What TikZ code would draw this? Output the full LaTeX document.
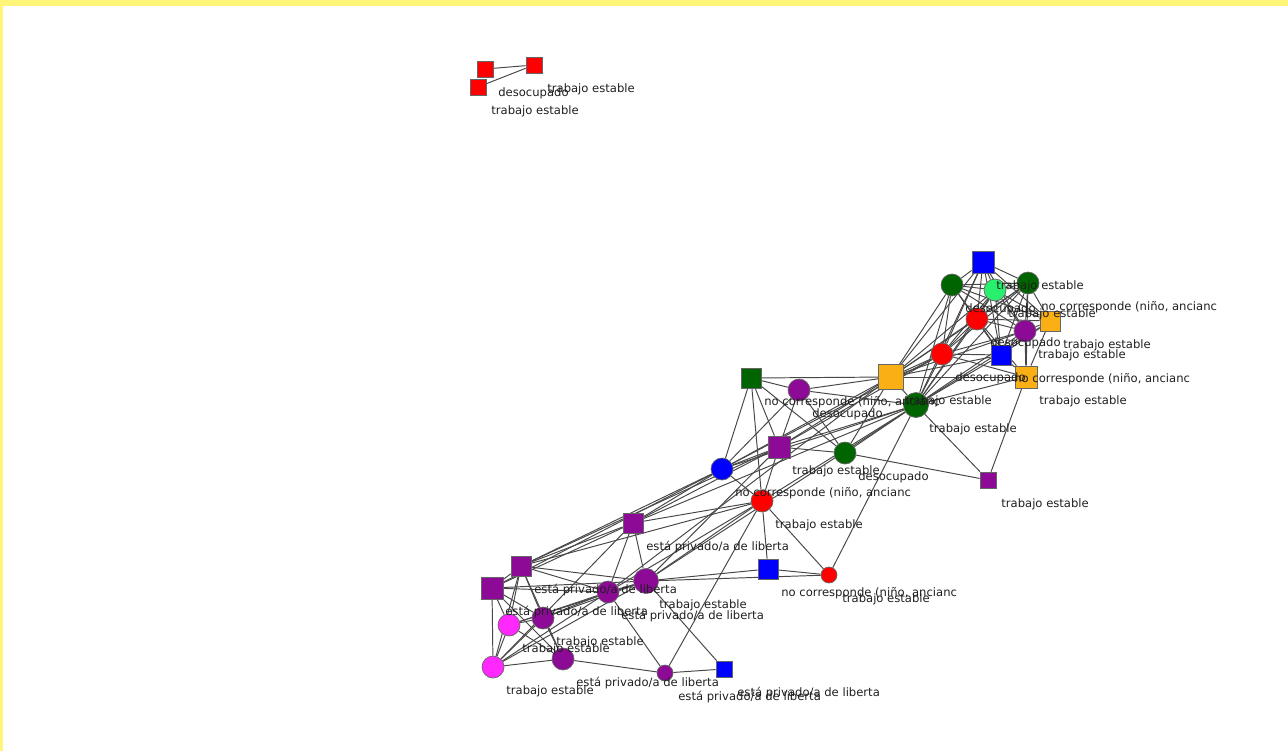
\documentclass[tikz,border=0pt]{standalone}
\usepackage{fontspec}
\usepackage{tikz}
\usetikzlibrary{shapes,backgrounds,positioning}
\newfontfamily\tagfont{DejaVu Sans}

\definecolor{frameyellow}{RGB}{255,245,120}
\definecolor{dkgreen}{RGB}{0,100,0}
\definecolor{ltgreen}{RGB}{40,240,110}
\definecolor{gold}{RGB}{250,175,20}
\definecolor{plum}{RGB}{140,10,150}
\definecolor{pink}{RGB}{255,40,255}

\begin{document}
\begin{tikzpicture}[x=0.02cm, y=-0.02cm]
		\tikzstyle{Box}		= [rectangle, draw=black!60, line width=0.4pt, minimum size=0.4cm, inner sep=0pt]
		\tikzstyle{Dot}		= [circle, draw=black!60, line width=0.4pt, minimum size=0.44cm, inner sep=0pt]
		\tikzstyle{big}		= [minimum size=0.5cm]
		\tikzstyle{small}	= [minimum size=0.32cm]
		\tikzstyle{Tag}		= [anchor=west, inner sep=0pt, text=black!88, font={\tagfont\fontsize{6.6}{7}\selectfont}]
		\tikzstyle{Edge}	= [black!72, line width=0.55pt]

		\useasboundingbox (0, 0) rectangle (1288, 751);
		\fill[frameyellow] (0, 0) rectangle (1288, 6);
		\fill[frameyellow] (0, 0) rectangle (3, 751);

		% small component
		\node (r1) at (485, 69) [Box][small, fill=red] {};
		\node (r2) at (478, 87) [Box][small, fill=red] {};
		\node (r3) at (534, 65) [Box][small, fill=red] {};

		% upper right group
		\node (b1) at (983, 262) [Box][minimum size=0.44cm, fill=blue] {};
		\node (g1) at (952, 285) [Dot][fill=dkgreen] {};
		\node (lg) at (995, 290) [Dot][fill=ltgreen] {};
		\node (g2) at (1028, 283) [Dot][fill=dkgreen] {};
		\node (r4) at (977, 319) [Dot][fill=red] {};
		\node (p1) at (1025, 331) [Dot][fill=plum] {};
		\node (o1) at (1050, 321) [Box][fill=gold] {};
		\node (r5) at (942, 354) [Dot][fill=red] {};
		\node (b2) at (1001, 355) [Box][fill=blue] {};
		\node (o2) at (891, 377) [Box][big, fill=gold] {};
		\node (o3) at (1026, 377) [Box][minimum size=0.44cm, fill=gold] {};
		\node (g3) at (916, 405) [Dot][big, fill=dkgreen] {};

		% middle
		\node (dg) at (751, 378) [Box][fill=dkgreen] {};
		\node (p2) at (799, 390) [Dot][fill=plum] {};
		\node (p3) at (779, 447) [Box][minimum size=0.44cm, fill=plum] {};
		\node (g4) at (845, 453) [Dot][fill=dkgreen] {};
		\node (b3) at (722, 469) [Dot][fill=blue] {};
		\node (r6) at (762, 501) [Dot][fill=red] {};
		\node (p4) at (988, 480) [Box][small, fill=plum] {};
		\node (p5) at (633, 523) [Box][fill=plum] {};
		\node (b4) at (768, 569) [Box][fill=blue] {};
		\node (r7) at (829, 575) [Dot][small, fill=red] {};

		% lower left group
		\node (p6) at (521, 566) [Box][fill=plum] {};
		\node (p7) at (492, 588) [Box][minimum size=0.44cm, fill=plum] {};
		\node (p8) at (646, 581) [Dot][big, fill=plum] {};
		\node (p9) at (608, 592) [Dot][fill=plum] {};
		\node (p10) at (543, 618) [Dot][fill=plum] {};
		\node (m1) at (509, 625) [Dot][fill=pink] {};
		\node (m2) at (493, 667) [Dot][fill=pink] {};
		\node (p11) at (563, 659) [Dot][fill=plum] {};
		\node (p12) at (665, 673) [Dot][small, fill=plum] {};
		\node (b5) at (724, 669) [Box][small, fill=blue] {};

		% tags, below right of each vertex
		\node (t-r1) at ([shift={(13,24)}]r1.center) [Tag] {desocupado};
		\node (t-r2) at ([shift={(13,24)}]r2.center) [Tag] {trabajo estable};
		\node (t-r3) at ([shift={(13,24)}]r3.center) [Tag] {trabajo estable};
		\node (t-b1) at ([shift={(13,24)}]b1.center) [Tag] {trabajo estable};
		\node (t-g1) at ([shift={(13,24)}]g1.center) [Tag] {desocupado};
		\node (t-lg) at ([shift={(13,24)}]lg.center) [Tag] {trabajo estable};
		\node (t-g2) at ([shift={(13,24)}]g2.center) [Tag] {no corresponde (niño, ancianc};
		\node (t-r4) at ([shift={(13,24)}]r4.center) [Tag] {desocupado};
		\node (t-p1) at ([shift={(13,24)}]p1.center) [Tag] {trabajo estable};
		\node (t-o1) at ([shift={(13,24)}]o1.center) [Tag] {trabajo estable};
		\node (t-r5) at ([shift={(13,24)}]r5.center) [Tag] {desocupado};
		\node (t-b2) at ([shift={(13,24)}]b2.center) [Tag] {no corresponde (niño, ancianc};
		\node (t-o2) at ([shift={(13,24)}]o2.center) [Tag] {trabajo estable};
		\node (t-o3) at ([shift={(13,24)}]o3.center) [Tag] {trabajo estable};
		\node (t-g3) at ([shift={(13,24)}]g3.center) [Tag] {trabajo estable};
		\node (t-dg) at ([shift={(13,24)}]dg.center) [Tag] {no corresponde (niño, ancianc};
		\node (t-p2) at ([shift={(13,24)}]p2.center) [Tag] {desocupado};
		\node (t-p3) at ([shift={(13,24)}]p3.center) [Tag] {trabajo estable};
		\node (t-g4) at ([shift={(13,24)}]g4.center) [Tag] {desocupado};
		\node (t-b3) at ([shift={(13,24)}]b3.center) [Tag] {no corresponde (niño, ancianc};
		\node (t-r6) at ([shift={(13,24)}]r6.center) [Tag] {trabajo estable};
		\node (t-p4) at ([shift={(13,24)}]p4.center) [Tag] {trabajo estable};
		\node (t-p5) at ([shift={(13,24)}]p5.center) [Tag] {está privado/a de liberta};
		\node (t-b4) at ([shift={(13,24)}]b4.center) [Tag] {no corresponde (niño, ancianc};
		\node (t-r7) at ([shift={(13,24)}]r7.center) [Tag] {trabajo estable};
		\node (t-p6) at ([shift={(13,24)}]p6.center) [Tag] {está privado/a de liberta};
		\node (t-p7) at ([shift={(13,24)}]p7.center) [Tag] {está privado/a de liberta};
		\node (t-p8) at ([shift={(13,24)}]p8.center) [Tag] {trabajo estable};
		\node (t-p9) at ([shift={(13,24)}]p9.center) [Tag] {está privado/a de liberta};
		\node (t-p10) at ([shift={(13,24)}]p10.center) [Tag] {trabajo estable};
		\node (t-m1) at ([shift={(13,24)}]m1.center) [Tag] {trabajo estable};
		\node (t-m2) at ([shift={(13,24)}]m2.center) [Tag] {trabajo estable};
		\node (t-p11) at ([shift={(13,24)}]p11.center) [Tag] {está privado/a de liberta};
		\node (t-p12) at ([shift={(13,24)}]p12.center) [Tag] {está privado/a de liberta};
		\node (t-b5) at ([shift={(13,24)}]b5.center) [Tag] {está privado/a de liberta};

		\begin{scope}[on background layer]
		\draw [-] (r1) to (r3) [Edge];
		\draw [-] (r2) to (r3) [Edge];

		\draw [-] (b1) to (g1) [Edge];
		\draw [-] (b1) to (lg) [Edge];
		\draw [-] (b1) to (g2) [Edge];
		\draw [-] (b1) to (r4) [Edge];
		\draw [-] (b1) to (p1) [Edge];
		\draw [-] (b1) to (o1) [Edge];
		\draw [-] (b1) to (r5) [Edge];
		\draw [-] (b1) to (b2) [Edge];
		\draw [-] (b1) to (g3) [Edge];
		\draw [-] (b1) to (o2) [Edge];
		\draw [-] (g1) to (lg) [Edge];
		\draw [-] (g1) to (g2) [Edge];
		\draw [-] (g1) to (r4) [Edge];
		\draw [-] (g1) to (p1) [Edge];
		\draw [-] (g1) to (b2) [Edge];
		\draw [-] (g1) to (r5) [Edge];
		\draw [-] (g1) to (o2) [Edge];
		\draw [-] (g1) to (g3) [Edge];
		\draw [-] (g1) to (o1) [Edge];
		\draw [-] (lg) to (g2) [Edge];
		\draw [-] (lg) to (r4) [Edge];
		\draw [-] (lg) to (p1) [Edge];
		\draw [-] (lg) to (o1) [Edge];
		\draw [-] (lg) to (b2) [Edge];
		\draw [-] (lg) to (r5) [Edge];
		\draw [-] (lg) to (g3) [Edge];
		\draw [-] (lg) to (o2) [Edge];
		\draw [-] (g2) to (r4) [Edge];
		\draw [-] (g2) to (p1) [Edge];
		\draw [-] (g2) to (o1) [Edge];
		\draw [-] (g2) to (b2) [Edge];
		\draw [-] (g2) to (r5) [Edge];
		\draw [-] (g2) to (g3) [Edge];
		\draw [-] (g2) to (o2) [Edge];
		\draw [-] (g2) to (o3) [Edge];
		\draw [-] (r4) to (p1) [Edge];
		\draw [-] (r4) to (o1) [Edge];
		\draw [-] (r4) to (b2) [Edge];
		\draw [-] (r4) to (r5) [Edge];
		\draw [-] (r4) to (g3) [Edge];
		\draw [-] (r4) to (o2) [Edge];
		\draw [-] (r4) to (o3) [Edge];
		\draw [-] (p1) to (o1) [Edge];
		\draw [-] (p1) to (b2) [Edge];
		\draw [-] (p1) to (r5) [Edge];
		\draw [-] (p1) to (g3) [Edge];
		\draw [-] (p1) to (o2) [Edge];
		\draw [-] (p1) to (o3) [Edge];
		\draw [-] (o1) to (b2) [Edge];
		\draw [-] (o1) to (g3) [Edge];
		\draw [-] (o1) to (o3) [Edge];
		\draw [-] (r5) to (b2) [Edge];
		\draw [-] (r5) to (g3) [Edge];
		\draw [-] (r5) to (o2) [Edge];
		\draw [-] (r5) to (o3) [Edge];
		\draw [-] (b2) to (o3) [Edge];
		\draw [-] (b2) to (g3) [Edge];
		\draw [-] (b2) to (o2) [Edge];
		\draw [-] (o3) to (g3) [Edge];
		\draw [-] (o3) to (o2) [Edge];
		\draw [-] (o3) to (p4) [Edge];
		\draw [-] (o2) to (g3) [Edge];

		\draw [-] (dg) to (p2) [Edge];
		\draw [-] (dg) to (o2) [Edge];
		\draw [-] (dg) to (b3) [Edge];
		\draw [-] (dg) to (r6) [Edge];
		\draw [-] (dg) to (p3) [Edge];
		\draw [-] (dg) to (g4) [Edge];
		\draw [-] (p2) to (o2) [Edge];
		\draw [-] (p2) to (g3) [Edge];
		\draw [-] (p2) to (p3) [Edge];
		\draw [-] (p2) to (g4) [Edge];
		\draw [-] (p2) to (b3) [Edge];
		\draw [-] (p3) to (g3) [Edge];
		\draw [-] (p3) to (o2) [Edge];
		\draw [-] (p3) to (g4) [Edge];
		\draw [-] (p3) to (b3) [Edge];
		\draw [-] (p3) to (r6) [Edge];
		\draw [-] (p3) to (r5) [Edge];
		\draw [-] (g4) to (g3) [Edge];
		\draw [-] (g4) to (p4) [Edge];
		\draw [-] (g4) to (o2) [Edge];
		\draw [-] (g3) to (p4) [Edge];
		\draw [-] (g3) to (b3) [Edge];
		\draw [-] (g3) to (r6) [Edge];
		\draw [-] (g3) to (r7) [Edge];
		\draw [-] (b3) to (r6) [Edge];
		\draw [-] (b3) to (o2) [Edge];
		\draw [-] (b3) to (r5) [Edge];
		\draw [-] (r6) to (b4) [Edge];
		\draw [-] (r6) to (r7) [Edge];
		\draw [-] (r6) to (p12) [Edge];
		\draw [-] (b4) to (r7) [Edge];

		\draw [-] (p5) to (b3) [Edge];
		\draw [-] (p5) to (r6) [Edge];
		\draw [-] (p5) to (p3) [Edge];
		\draw [-] (p5) to (p6) [Edge];
		\draw [-] (p5) to (p7) [Edge];
		\draw [-] (p5) to (p8) [Edge];
		\draw [-] (p5) to (p9) [Edge];
		\draw [-] (p5) to (m2) [Edge];
		\draw [-] (p5) to (g3) [Edge];
		\draw [-] (p6) to (p7) [Edge];
		\draw [-] (p6) to (p8) [Edge];
		\draw [-] (p6) to (p9) [Edge];
		\draw [-] (p6) to (p10) [Edge];
		\draw [-] (p6) to (m1) [Edge];
		\draw [-] (p6) to (m2) [Edge];
		\draw [-] (p6) to (p11) [Edge];
		\draw [-] (p6) to (b3) [Edge];
		\draw [-] (p6) to (r6) [Edge];
		\draw [-] (p6) to (p3) [Edge];
		\draw [-] (p7) to (m2) [Edge];
		\draw [-] (p7) to (m1) [Edge];
		\draw [-] (p7) to (p10) [Edge];
		\draw [-] (p7) to (p11) [Edge];
		\draw [-] (p7) to (p9) [Edge];
		\draw [-] (p7) to (p8) [Edge];
		\draw [-] (p7) to (b3) [Edge];
		\draw [-] (p8) to (b4) [Edge];
		\draw [-] (p8) to (r7) [Edge];
		\draw [-] (p8) to (b5) [Edge];
		\draw [-] (p8) to (r6) [Edge];
		\draw [-] (p8) to (p9) [Edge];
		\draw [-] (p8) to (m2) [Edge];
		\draw [-] (p8) to (m1) [Edge];
		\draw [-] (p8) to (p3) [Edge];
		\draw [-] (p8) to (g3) [Edge];
		\draw [-] (p8) to (p10) [Edge];
		\draw [-] (p9) to (p12) [Edge];
		\draw [-] (p9) to (m2) [Edge];
		\draw [-] (p9) to (m1) [Edge];
		\draw [-] (p9) to (p10) [Edge];
		\draw [-] (p9) to (r6) [Edge];
		\draw [-] (p9) to (o2) [Edge];
		\draw [-] (p10) to (m1) [Edge];
		\draw [-] (p10) to (m2) [Edge];
		\draw [-] (p10) to (p11) [Edge];
		\draw [-] (m1) to (m2) [Edge];
		\draw [-] (m1) to (p11) [Edge];
		\draw [-] (m2) to (p11) [Edge];
		\draw [-] (p11) to (p12) [Edge];
		\draw [-] (p12) to (b5) [Edge];
		\end{scope}
	\end{tikzpicture}
\end{document}
